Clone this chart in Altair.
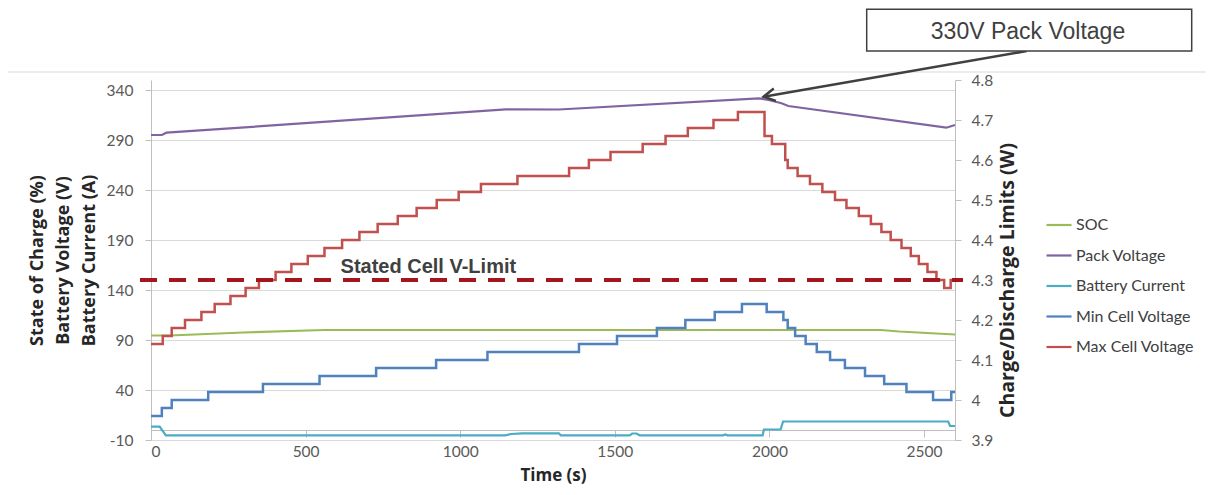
import altair as alt
import pandas as pd

# ---------------- data ----------------
series_names = ["SOC", "Pack Voltage", "Battery Current", "Min Cell Voltage", "Max Cell Voltage"]
series_colors = ["#9BBB59", "#8064A2", "#4BACC6", "#4F81BD", "#C0504D"]

time_soc = [0, 60, 300, 560, 2360, 2420, 2600]
soc = [94.5, 94.5, 97.5, 100, 100, 98.5, 95.5]

time_pack = [0, 35, 50, 1147, 1319, 1965, 1997, 2039, 2061, 2572, 2600]
pack_v = [295, 295, 297.3, 320.7, 320.5, 331.7, 330, 326.7, 324, 302.3, 305]

time_cur = [0, 28, 48, 1145, 1165, 1200, 1319, 1325, 1548, 1556, 1570, 1580,
            1850, 1857, 1864, 1978, 1982, 2036, 2044, 2578, 2584, 2600]
cur = [3.3, 3.3, -5.3, -5.3, -4, -3.3, -3.3, -5.3, -5.3, -3.5, -3.5, -5.3,
       -5.3, -4.5, -5.3, -5.3, 0.5, 0.5, 8.5, 8.5, 4, 4]

time_min = [0, 35, 67, 185, 362, 545, 728, 922, 1088, 1384, 1507, 1636, 1728, 1823, 1911,
            1991, 2045, 2059, 2083, 2117, 2153, 2196, 2244, 2309, 2371, 2443, 2529, 2588, 2600]
min_v = [3.96, 3.98, 4.00, 4.02, 4.04, 4.06, 4.08, 4.10, 4.12, 4.14, 4.16, 4.18, 4.20, 4.22, 4.24,
         4.22, 4.20, 4.18, 4.16, 4.14, 4.12, 4.10, 4.08, 4.06, 4.04, 4.02, 4.00, 4.02, 4.02]

time_max = [0, 38, 67, 110, 163, 206, 257, 306, 349, 403, 454, 507, 561, 618, 674, 733, 798, 859,
            924, 995, 1067, 1185, 1352, 1416, 1486, 1590, 1664, 1736, 1819, 1898,
            1984, 2008, 2051, 2059, 2091, 2131, 2171, 2212, 2249, 2289, 2328, 2362, 2392,
            2427, 2457, 2483, 2511, 2540, 2565, 2586, 2600]
max_v = [4.14, 4.16, 4.18, 4.20, 4.22, 4.24, 4.26, 4.28, 4.30, 4.32, 4.34, 4.36, 4.38, 4.40, 4.42,
         4.44, 4.46, 4.48, 4.50, 4.52, 4.54, 4.56, 4.58, 4.60, 4.62, 4.64, 4.66, 4.68, 4.70, 4.72,
         4.66, 4.64, 4.60, 4.58, 4.56, 4.54, 4.52, 4.50, 4.48, 4.46, 4.44, 4.42, 4.40,
         4.38, 4.36, 4.34, 4.32, 4.30, 4.28, 4.30, 4.30]

cell_v_limit = 4.3
peak_time, peak_pack = 1981, 333.3

left_ticks = [-10, 40, 90, 140, 190, 240, 290, 340]
right_ticks = [3.9, 4.0, 4.1, 4.2, 4.3, 4.4, 4.5, 4.6, 4.7, 4.8]
x_ticks = [0, 500, 1000, 1500, 2000, 2500]


def frame(ts, vs, name):
    return pd.DataFrame({"t": ts, "v": vs, "series": name})


df_left = pd.concat([frame(time_soc, soc, "SOC"),
                     frame(time_pack, pack_v, "Pack Voltage"),
                     frame(time_cur, cur, "Battery Current")])
df_right = pd.concat([frame(time_min, min_v, "Min Cell Voltage"),
                      frame(time_max, max_v, "Max Cell Voltage")])
df_peak = pd.DataFrame({"t": [peak_time], "v": [peak_pack]})
df_limit = pd.DataFrame({"t": [0], "v": [cell_v_limit]})
df_limit_txt = pd.DataFrame({"t": [613], "v": [4.318]})
one = pd.DataFrame({"a": [0]})

FONT = "Lato"
TFONT = "Open Sans"
ARIAL = "Liberation Sans"
LBL = "datum.value + ''"

xs = alt.Scale(domain=[0, 2600], nice=False, zero=False)
x_axis = alt.Axis(values=x_ticks, title="Time (s)", grid=False, offset=-10, tickSize=7,
                  labelPadding=7, titlePadding=8, labelExpr=LBL,
                  domainColor="#BFBFBF", tickColor="#BFBFBF")
X = alt.X("t:Q", scale=xs, axis=x_axis)

color = alt.Color("series:N",
                  scale=alt.Scale(domain=series_names, range=series_colors),
                  sort=series_names,
                  legend=alt.Legend(orient="none", legendX=894, legendY=131, title=None,
                                    symbolType="stroke", symbolSize=625, symbolStrokeWidth=2.2,
                                    labelFontSize=16, labelFont=FONT, labelColor="#404040",
                                    rowPadding=8.5, labelOffset=3, padding=0))

y_left = alt.Y("v:Q", scale=alt.Scale(domain=[-10, 350], nice=False, zero=False),
               axis=alt.Axis(values=left_ticks, grid=True, gridColor="#D9D9D9", labelExpr=LBL,
                             title=["State of Charge (%)", "Battery Voltage (V)", "Battery Current (A)"],
                             titleFontSize=18,
                             titleLineHeight=26, titlePadding=8, tickSize=6, labelPadding=12,
                             domainColor="#BFBFBF", tickColor="#BFBFBF"))
y_right = alt.Y("v:Q", scale=alt.Scale(domain=[3.9, 4.8], nice=False, zero=False),
                axis=alt.Axis(orient="right", values=right_ticks, grid=False, labelExpr=LBL,
                              title="Charge/Discharge Limits (W)", titleAngle=270,
                              titleFontSize=19.5, titleBaseline="bottom", titleY=200, titleX=62,
                              tickSize=6, labelPadding=10,
                              domainColor="#BFBFBF", tickColor="#BFBFBF"))

left_lines = alt.Chart(df_left).mark_line(strokeWidth=2.2, interpolate="linear").encode(
    x=X, y=y_left, color=color)

arrow = alt.Chart(df_peak).mark_rule(color="#404040", strokeWidth=2.5).encode(
    x=X, y=y_left, x2=alt.value(875.7), y2=alt.value(-29))
arrow_head = alt.Chart(df_peak).mark_point(
    shape="M -1 -0.55 L 0 0 L -1 0.55", filled=False, size=520, angle=170.1,
    stroke="#404040", strokeWidth=2.5, opacity=1).encode(x=X, y=y_left)

box = alt.Chart(one).mark_rect(fill="white", stroke="#404040", strokeWidth=1.5).encode(
    x=alt.value(715.7), x2=alt.value(1040.7), y=alt.value(-70.7), y2=alt.value(-29))
box_text = alt.Chart(one).mark_text(text="330V Pack Voltage", font=ARIAL, fontSize=23,
                                    color="#404040", align="center", baseline="alphabetic").encode(
    x=alt.value(877), y=alt.value(-40.7))
separator = alt.Chart(one).mark_rule(color="#D9D9D9", strokeWidth=1).encode(
    x=alt.value(-144), x2=alt.value(1055), y=alt.value(-8))

left_layer = alt.layer(separator, left_lines, arrow, arrow_head, box, box_text)

right_lines = alt.Chart(df_right).mark_line(strokeWidth=2.5, interpolate="step-after",
                                            strokeJoin="miter").encode(x=X, y=y_right, color=color)
limit = alt.Chart(df_limit).mark_rule(color="#A3161E", strokeWidth=4, strokeDash=[17, 12]).encode(
    y=y_right, x=alt.value(-11), x2=alt.value(812))
limit_txt = alt.Chart(df_limit_txt).mark_text(text="Stated Cell V-Limit", font=ARIAL, fontSize=20,
                                              fontWeight="bold", color="#404040", align="left",
                                              baseline="alphabetic").encode(x=X, y=y_right)

right_layer = alt.layer(right_lines, limit, limit_txt)

chart = alt.layer(left_layer, right_layer).resolve_scale(y="independent").properties(
    width=804, height=360,
    padding={"left": 143, "top": 72, "right": 251, "bottom": 47},
    autosize=alt.AutoSizeParams(type="none"),
    background="white",
).configure_view(stroke=None).configure_axis(
    labelFont=FONT, labelFontSize=15.5, labelColor="#595959",
    titleFont=TFONT, titleFontSize=17, titleFontWeight="bold", titleColor="#262626",
)

chart.save("out.html", embed_options={"renderer": "svg", "actions": False})
